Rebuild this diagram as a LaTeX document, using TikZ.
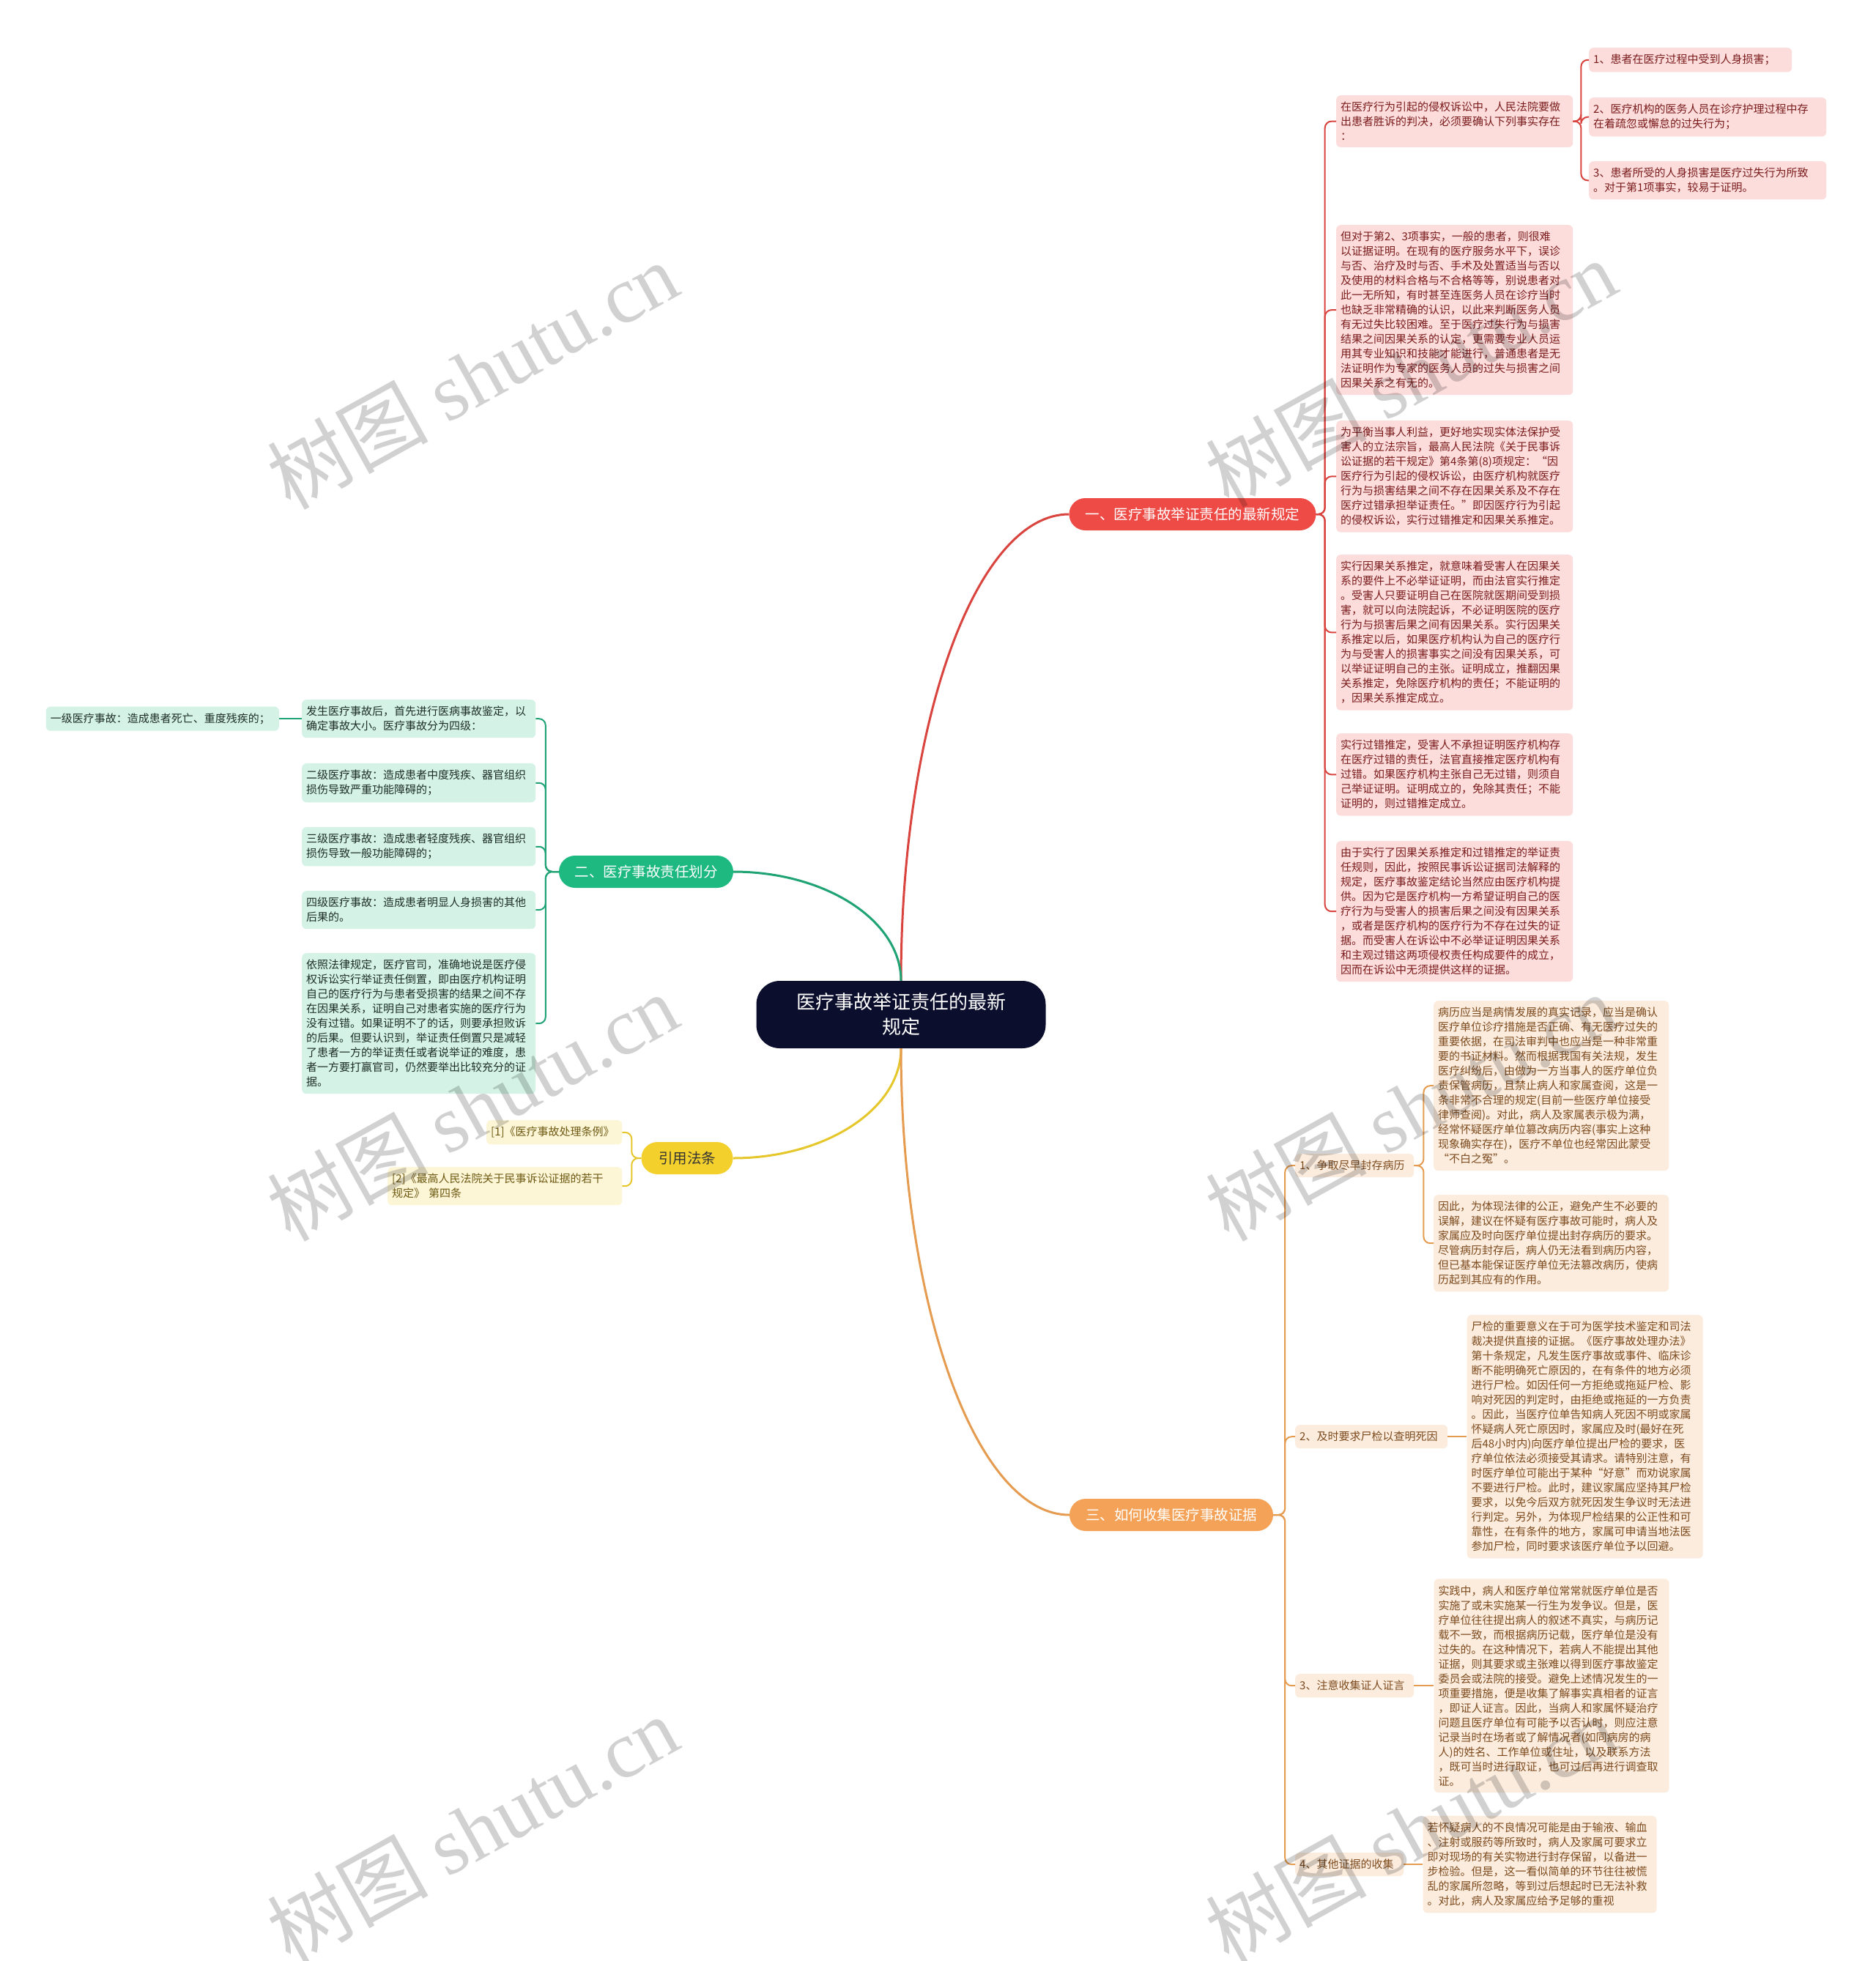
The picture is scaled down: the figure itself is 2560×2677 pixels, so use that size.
\documentclass[tikz,border=0pt]{standalone}
\usepackage{fontspec}
\setmainfont{Noto Sans CJK SC}
\newfontfamily\markfont{Liberation Serif}
\usepackage{xcolor}
\usepackage{tikz}
\usetikzlibrary{positioning}

\definecolor{rootnavy}{HTML}{0B0E2C}
\definecolor{redmain}{HTML}{EE4B46}
\definecolor{redline}{HTML}{D9443F}
\definecolor{redpale}{HTML}{FDDCDC}
\definecolor{redink}{HTML}{7A1C1C}
\definecolor{greenmain}{HTML}{1EB980}
\definecolor{greenline}{HTML}{1FA374}
\definecolor{greenpale}{HTML}{D4F3E6}
\definecolor{greenink}{HTML}{1E2E27}
\definecolor{yellowmain}{HTML}{F3D02C}
\definecolor{yellowline}{HTML}{E6C72B}
\definecolor{yellowpale}{HTML}{FDF6D6}
\definecolor{yellowink}{HTML}{6E5A14}
\definecolor{orangemain}{HTML}{F3A257}
\definecolor{orangeline}{HTML}{E69C50}
\definecolor{orangepale}{HTML}{FCECDE}
\definecolor{orangeink}{HTML}{7D4B1E}

\tikzstyle{rootnode} = [rectangle, fill=rootnavy, text=white, rounded corners=32pt, minimum width=395pt, minimum height=92pt, align=center, font=\fontsize{26}{34}\selectfont]
\tikzstyle{topic} = [rectangle, rounded corners=22pt, minimum height=44pt, font=\fontsize{19.5}{24}\selectfont]
\tikzstyle{leaf} = [rectangle, rounded corners=6pt, inner xsep=6pt, inner ysep=9pt, align=left, anchor=north west, font=\fontsize{15}{20}\selectfont]
\tikzstyle{redleaf} = [leaf, fill=redpale, text=redink, text width=311pt]
\tikzstyle{greenleaf} = [leaf, fill=greenpale, text=greenink, text width=307pt]
\tikzstyle{yellowleaf} = [leaf, fill=yellowpale, text=yellowink, text width=308pt]
\tikzstyle{orangeleaf} = [leaf, fill=orangepale, text=orangeink, text width=309pt]
\tikzstyle{trunk} = [line width=3pt]
\tikzstyle{twig} = [line width=2pt, rounded corners=9pt]
\tikzstyle{watermark} = [text=black, opacity=0.18, rotate=29, font=\fontsize{110}{115}\selectfont]

\begin{document}
\begin{tikzpicture}[x=1pt, y=-1pt]

\useasboundingbox (0,0) rectangle (2560,2677);
\fill[white] (0,0) rectangle (2560,2677);

% centre and the four topics
\node[rootnode] (root) at (1230,1385) {医疗事故举证责任的最新\\规定};
\node[topic, fill=redmain, text=white, minimum width=337pt] (redt) at (1628,702) {一、医疗事故举证责任的最新规定};
\node[topic, fill=greenmain, text=white, minimum width=238pt] (greent) at (882,1190) {二、医疗事故责任划分};
\node[topic, fill=yellowmain, text=black!80, minimum width=125pt] (yellowt) at (938,1581) {引用法条};
\node[topic, fill=orangemain, text=white, minimum width=278pt] (oranget) at (1599,2068) {三、如何收集医疗事故证据};

% first topic
\node[redleaf] (ra) at (1824,130) {在医疗行为引起的侵权诉讼中，人民法院要做\\出患者胜诉的判决，必须要确认下列事实存在\\：};
\node[redleaf, text width=265pt] (ri1) at (2169,65) {1、患者在医疗过程中受到人身损害；};
\node[redleaf, text width=312pt] (ri2) at (2169,133) {2、医疗机构的医务人员在诊疗护理过程中存\\在着疏忽或懈怠的过失行为；};
\node[redleaf, text width=312pt] (ri3) at (2169,220) {3、患者所受的人身损害是医疗过失行为所致\\。对于第1项事实，较易于证明。};
\node[redleaf] (rb) at (1824,307) {但对于第2、3项事实，一般的患者，则很难\\以证据证明。在现有的医疗服务水平下，误诊\\与否、治疗及时与否、手术及处置适当与否以\\及使用的材料合格与不合格等等，别说患者对\\此一无所知，有时甚至连医务人员在诊疗当时\\也缺乏非常精确的认识，以此来判断医务人员\\有无过失比较困难。至于医疗过失行为与损害\\结果之间因果关系的认定，更需要专业人员运\\用其专业知识和技能才能进行，普通患者是无\\法证明作为专家的医务人员的过失与损害之间\\因果关系之有无的。};
\node[redleaf] (rc) at (1824,574) {为平衡当事人利益，更好地实现实体法保护受\\害人的立法宗旨，最高人民法院《关于民事诉\\讼证据的若干规定》第4条第(8)项规定：“因\\医疗行为引起的侵权诉讼，由医疗机构就医疗\\行为与损害结果之间不存在因果关系及不存在\\医疗过错承担举证责任。”即因医疗行为引起\\的侵权诉讼，实行过错推定和因果关系推定。};
\node[redleaf] (rd) at (1824,757) {实行因果关系推定，就意味着受害人在因果关\\系的要件上不必举证证明，而由法官实行推定\\。受害人只要证明自己在医院就医期间受到损\\害，就可以向法院起诉，不必证明医院的医疗\\行为与损害后果之间有因果关系。实行因果关\\系推定以后，如果医疗机构认为自己的医疗行\\为与受害人的损害事实之间没有因果关系，可\\以举证证明自己的主张。证明成立，推翻因果\\关系推定，免除医疗机构的责任；不能证明的\\，因果关系推定成立。};
\node[redleaf] (re) at (1824,1001) {实行过错推定，受害人不承担证明医疗机构存\\在医疗过错的责任，法官直接推定医疗机构有\\过错。如果医疗机构主张自己无过错，则须自\\己举证证明。证明成立的，免除其责任；不能\\证明的，则过错推定成立。};
\node[redleaf] (rf) at (1824,1148) {由于实行了因果关系推定和过错推定的举证责\\任规则，因此，按照民事诉讼证据司法解释的\\规定，医疗事故鉴定结论当然应由医疗机构提\\供。因为它是医疗机构一方希望证明自己的医\\疗行为与受害人的损害后果之间没有因果关系\\，或者是医疗机构的医疗行为不存在过失的证\\据。而受害人在诉讼中不必举证证明因果关系\\和主观过错这两项侵权责任构成要件的成立，\\因而在诉讼中无须提供这样的证据。};

% second topic
\node[greenleaf] (g1) at (412,955) {发生医疗事故后，首先进行医病事故鉴定，以\\确定事故大小。医疗事故分为四级：};
\node[greenleaf, text width=306pt, left=31pt of g1] (g1a) {一级医疗事故：造成患者死亡、重度残疾的；};
\node[greenleaf] (g2) at (412,1042) {二级医疗事故：造成患者中度残疾、器官组织\\损伤导致严重功能障碍的；};
\node[greenleaf] (g3) at (412,1129) {三级医疗事故：造成患者轻度残疾、器官组织\\损伤导致一般功能障碍的；};
\node[greenleaf] (g4) at (412,1216) {四级医疗事故：造成患者明显人身损害的其他\\后果的。};
\node[greenleaf] (g5) at (412,1301) {依照法律规定，医疗官司，准确地说是医疗侵\\权诉讼实行举证责任倒置，即由医疗机构证明\\自己的医疗行为与患者受损害的结果之间不存\\在因果关系，证明自己对患者实施的医疗行为\\没有过错。如果证明不了的话，则要承担败诉\\的后果。但要认识到，举证责任倒置只是减轻\\了患者一方的举证责任或者说举证的难度，患\\者一方要打赢官司，仍然要举出比较充分的证\\据。};

% references
\node[yellowleaf, text width=173pt] (y1) at (664,1529) {[1]《医疗事故处理条例》};
\node[yellowleaf] (y2) at (529,1593) {[2]《最高人民法院关于民事诉讼证据的若干\\规定》 第四条};

% third topic
\node[orangeleaf, text width=150pt] (o1) at (1768,1575) {1、争取尽早封存病历};
\node[orangeleaf, text width=196pt] (o2) at (1768,1945) {2、及时要求尸检以查明死因};
\node[orangeleaf, text width=150pt] (o3) at (1768,2285) {3、注意收集证人证言};
\node[orangeleaf, text width=136pt] (o4) at (1768,2529) {4、其他证据的收集};
\node[orangeleaf] (o1a) at (1957,1366) {病历应当是病情发展的真实记录，应当是确认\\医疗单位诊疗措施是否正确、有无医疗过失的\\重要依据，在司法审判中也应当是一种非常重\\要的书证材料。然而根据我国有关法规，发生\\医疗纠纷后，由做为一方当事人的医疗单位负\\责保管病历，且禁止病人和家属查阅，这是一\\条非常不合理的规定(目前一些医疗单位接受\\律师查阅)。对此，病人及家属表示极为满，\\经常怀疑医疗单位篡改病历内容(事实上这种\\现象确实存在)，医疗不单位也经常因此蒙受\\“不白之冤”。};
\node[orangeleaf] (o1b) at (1957,1631) {因此，为体现法律的公正，避免产生不必要的\\误解，建议在怀疑有医疗事故可能时，病人及\\家属应及时向医疗单位提出封存病历的要求。\\尽管病历封存后，病人仍无法看到病历内容，\\但已基本能保证医疗单位无法篡改病历，使病\\历起到其应有的作用。};
\node[orangeleaf, text width=310pt, right=26pt of o2] (o2a) {尸检的重要意义在于可为医学技术鉴定和司法\\裁决提供直接的证据。《医疗事故处理办法》\\第十条规定，凡发生医疗事故或事件、临床诊\\断不能明确死亡原因的，在有条件的地方必须\\进行尸检。如因任何一方拒绝或拖延尸检、影\\响对死因的判定时，由拒绝或拖延的一方负责\\。因此，当医疗位单告知病人死因不明或家属\\怀疑病人死亡原因时，家属应及时(最好在死\\后48小时内)向医疗单位提出尸检的要求，医\\疗单位依法必须接受其请求。请特别注意，有\\时医疗单位可能出于某种“好意”而劝说家属\\不要进行尸检。此时，建议家属应坚持其尸检\\要求，以免今后双方就死因发生争议时无法进\\行判定。另外，为体现尸检结果的公正性和可\\靠性，在有条件的地方，家属可申请当地法医\\参加尸检，同时要求该医疗单位予以回避。};
\node[orangeleaf, right=27pt of o3] (o3a) {实践中，病人和医疗单位常常就医疗单位是否\\实施了或未实施某一行生为发争议。但是，医\\疗单位往往提出病人的叙述不真实，与病历记\\载不一致，而根据病历记载，医疗单位是没有\\过失的。在这种情况下，若病人不能提出其他\\证据，则其要求或主张难以得到医疗事故鉴定\\委员会或法院的接受。避免上述情况发生的一\\项重要措施，便是收集了解事实真相者的证言\\，即证人证言。因此，当病人和家属怀疑治疗\\问题且医疗单位有可能予以否认时，则应注意\\记录当时在场者或了解情况者(如同病房的病\\人)的姓名、工作单位或住址，以及联系方法\\，既可当时进行取证，也可过后再进行调查取\\证。};
\node[orangeleaf, text width=307pt, right=26pt of o4] (o4a) {若怀疑病人的不良情况可能是由于输液、输血\\、注射或服药等所致时，病人及家属可要求立\\即对现场的有关实物进行封存保留，以备进一\\步检验。但是，这一看似简单的环节往往被慌\\乱的家属所忽略，等到过后想起时已无法补救\\。对此，病人及家属应给予足够的重视};

% from the centre
\draw[trunk, redline] (root.north) .. controls +(0,-352) and +(-127,0) .. (redt.west);
\draw[trunk, greenline] (root.north) .. controls +(0,-82) and +(126,0) .. (greent.east);
\draw[trunk, yellowline] (root.south) .. controls +(0,83) and +(126,0) .. (yellowt.east);
\draw[trunk, orangeline] (root.south) .. controls +(0,352) and +(-127,0) .. (oranget.west);

% brackets
\foreach \n in {ra,rb,rc,rd,re,rf}
  \draw[twig, redline] (redt.east) -- ++(12,0) |- (\n.west);
\foreach \n in {ri1,ri2,ri3}
  \draw[twig, redline] (ra.east) -- ++(11,0) |- (\n.west);
\foreach \n in {g1,g2,g3,g4,g5}
  \draw[twig, greenline] (greent.west) -- ++(-18,0) |- (\n.east);
\draw[twig, greenline] (g1.west) -- (g1a.east);
\foreach \n in {y1,y2}
  \draw[twig, yellowline] (yellowt.west) -- ++(-13,0) |- (\n.east);
\foreach \n in {o1,o2,o3,o4}
  \draw[twig, orangeline] (oranget.east) -- ++(16,0) |- (\n.west);
\foreach \n in {o1a,o1b}
  \draw[twig, orangeline] (o1.east) -- ++(13,0) |- (\n.west);
\draw[twig, orangeline] (o2.east) -- (o2a.west);
\draw[twig, orangeline] (o3.east) -- (o3a.west);
\draw[twig, orangeline] (o4.east) -- (o4a.west);

% watermark
\node[watermark] (wm1) at (645,512) {树图 {\markfont shutu.cn}};
\node[watermark] (wm2) at (1926,509) {树图 {\markfont shutu.cn}};
\node[watermark] (wm3) at (645,1511) {树图 {\markfont shutu.cn}};
\node[watermark] (wm4) at (1926,1511) {树图 {\markfont shutu.cn}};
\node[watermark] (wm5) at (645,2497) {树图 {\markfont shutu.cn}};
\node[watermark] (wm6) at (1926,2497) {树图 {\markfont shutu.cn}};

\end{tikzpicture}
\end{document}
